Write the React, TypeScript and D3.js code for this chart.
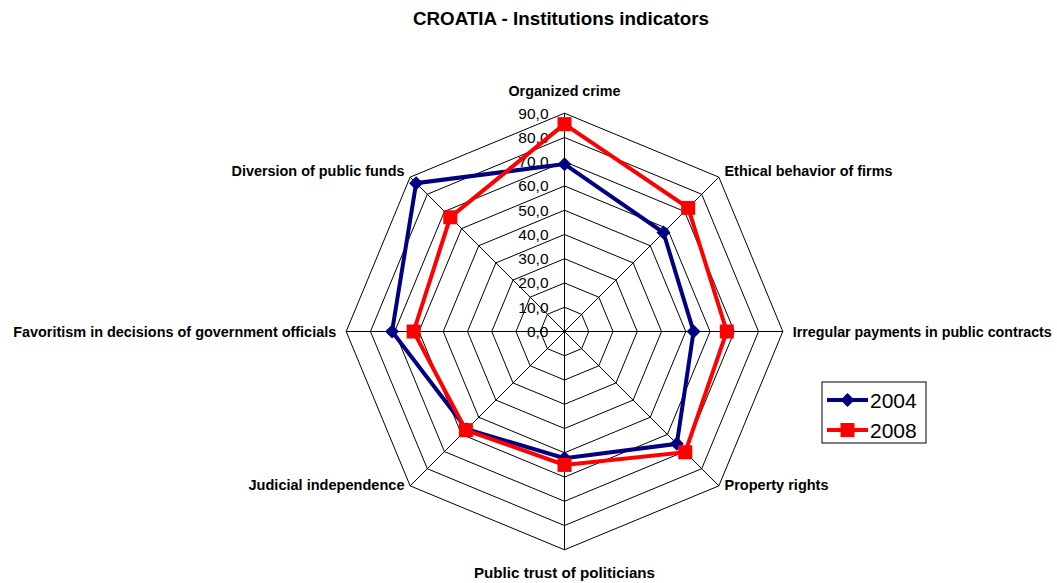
import React from 'react';
import * as d3 from 'd3';

const categories = [
  'Organized crime',
  'Ethical behavior of firms',
  'Irregular payments in public contracts',
  'Property rights',
  'Public trust of politicians',
  'Judicial independence',
  'Favoritism in decisions of government officials',
  'Diversion of public funds',
];
const values2004 = [69.0, 57.7, 53.2, 65.5, 52.2, 57.0, 71.1, 86.5];
const values2008 = [85.5, 72.1, 66.9, 70.4, 55.0, 57.5, 62.2, 66.6];
const ticks = [0, 10, 20, 30, 40, 50, 60, 70, 80, 90];
const seriesNames = ['2004', '2008'];

// widths of the labels as measured in the original (narrow font)
const labelWidths = [112, 168, 259, 104, 181, 156, 323, 173];

const width = 1057;
const height = 583;
const cx = 564.5;
const cy = 331.5;
const R = 218.3;

const App = () => {
  const r = d3.scaleLinear().domain([0, 90]).range([0, R]);
  const angle = d3.scalePoint<number>()
    .domain(d3.range(categories.length + 1))
    .range([0, 2 * Math.PI]);

  const ring = d3.lineRadial<number>()
    .angle((d, i) => angle(i) as number)
    .radius(d => r(d))
    .curve(d3.curveLinearClosed);

  const xy = (i: number, v: number) => {
    const a = angle(i) as number;
    return [Math.sin(a) * r(v), -Math.cos(a) * r(v)];
  };

  const labelFont = '"Liberation Sans Narrow", "Arial Narrow", Arial, sans-serif';

  const labelPos = (i: number) => {
    const a = angle(i) as number;
    const s = Math.sin(a);
    const c = Math.cos(a);
    let anchor = 'middle';
    if (s > 0.1) anchor = 'start';
    if (s < -0.1) anchor = 'end';
    let x = s * (R + 8);
    let y = -c * (R + 4);
    if (Math.abs(s) < 0.1) {
      x = 0;
      y = c > 0 ? -R - 17 : R + 28;
    } else if (Math.abs(c) < 0.1) {
      y = 5.5;
      x = s * (R + 10);
    } else {
      y = y + 1.5;
    }
    return { x, y, anchor };
  };

  const series = [
    { name: seriesNames[0], values: values2004, color: '#000080' },
    { name: seriesNames[1], values: values2008, color: '#FF0000' },
  ];

  return (
    <svg width={width} height={height} style={{ position: 'absolute', left: 0, top: 0, background: '#fff' }}>
      <text x={561} y={24.5} textAnchor="middle" fontFamily="Arial, Liberation Sans, sans-serif"
        fontWeight="bold" fontSize={18} textLength={296} lengthAdjust="spacingAndGlyphs">
        CROATIA - Institutions indicators
      </text>
      <g transform={`translate(${cx},${cy})`}>
        {ticks.slice(1).map(t => (
          <path key={t} d={ring(categories.map(() => t)) || ''} fill="none" stroke="#000" strokeWidth={1} />
        ))}
        {categories.map((c, i) => {
          const [x, y] = xy(i, 90);
          return <line key={c} x1={0} y1={0} x2={x} y2={y} stroke="#000" strokeWidth={1} />;
        })}
        {ticks.map(t => (
          <text key={t} x={-16} y={-r(t)} dy="0.35em" textAnchor="end"
            fontFamily="Arial, Liberation Sans, sans-serif" fontSize={15.5} fill="#000">
            {t.toFixed(1).replace('.', ',')}
          </text>
        ))}
        {categories.map((c, i) => {
          const p = labelPos(i);
          return (
            <text key={c} x={p.x} y={p.y} textAnchor={p.anchor} fontFamily={labelFont}
              fontWeight="bold" fontSize={15.5} fill="#000"
              textLength={labelWidths[i]} lengthAdjust="spacingAndGlyphs">
              {c}
            </text>
          );
        })}
        {series.map(s => (
          <g key={s.name}>
            <path d={ring(s.values) || ''} fill="none" stroke={s.color} strokeWidth={4} strokeLinejoin="miter" />
            {s.values.map((v, i) => {
              const [x, y] = xy(i, v);
              return s.name === '2004' ? (
                <path key={i} d="M0,-7L7,0L0,7L-7,0Z" transform={`translate(${x},${y})`} fill={s.color} />
              ) : (
                <rect key={i} x={x - 7} y={y - 7} width={14} height={14} fill={s.color} />
              );
            })}
          </g>
        ))}
      </g>
      <g transform="translate(822,382)">
        <rect x={0} y={0} width={104} height={61} fill="#fff" stroke="#000" strokeWidth={1} />
        {series.map((s, k) => (
          <g key={s.name} transform={`translate(0,${18 + k * 30})`}>
            <line x1={5} x2={46} y1={0} y2={0} stroke={s.color} strokeWidth={4} />
            {k === 0 ? (
              <path d="M25.5,-7L32.5,0L25.5,7L18.5,0Z" fill={s.color} />
            ) : (
              <rect x={18.5} y={-7} width={14} height={14} fill={s.color} />
            )}
            <text x={48} y={0} dy="0.36em" fontFamily="Arial, Liberation Sans, sans-serif" fontSize={21} fill="#000">
              {s.name}
            </text>
          </g>
        ))}
      </g>
    </svg>
  );
};

export default App;
